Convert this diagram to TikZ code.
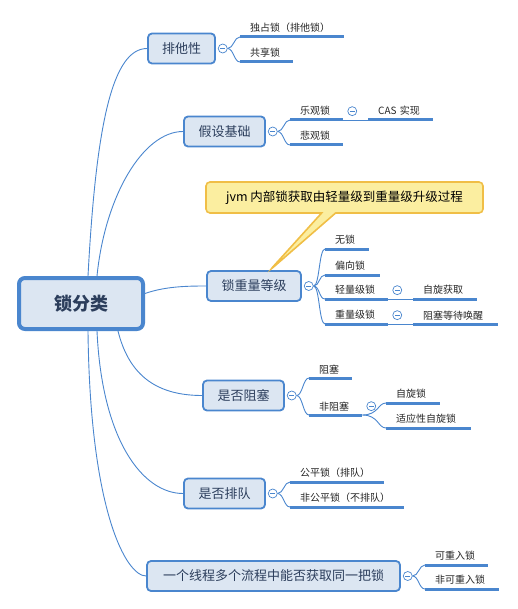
\documentclass[tikz,border=0pt]{standalone}
\usepackage{fontspec}
\setmainfont{Noto Sans CJK SC}
\usetikzlibrary{shapes,shapes.callouts,positioning,backgrounds}
\definecolor{mapblue}{RGB}{74,134,206}
\definecolor{boxfill}{RGB}{220,230,242}
\definecolor{boxtext}{RGB}{44,62,92}
\definecolor{noteyellow}{RGB}{251,238,160}
\definecolor{noteorange}{RGB}{240,190,70}

\begin{document}
\begin{tikzpicture}[
    x=1pt, y=-1pt,
    root/.style={rectangle, rounded corners=6pt, draw=mapblue, line width=4pt, fill=boxfill, minimum width=124pt, minimum height=51pt, text=boxtext, font=\fontsize{18}{20}\selectfont\bfseries},
    topic/.style={rectangle, rounded corners=4pt, draw=mapblue, line width=1.8pt, fill=boxfill, minimum height=30pt, text=boxtext, font=\fontsize{13}{15}\selectfont},
    fold/.style={circle, draw=mapblue, line width=0.7pt, fill=white, minimum size=9pt, inner sep=0pt, path picture={\draw[mapblue, line width=0.7pt] ([xshift=-2.5pt]path picture bounding box.center) -- ([xshift=2.5pt]path picture bounding box.center);}},
    leaf/.style={anchor=south west, inner xsep=10pt, inner ysep=4pt, text width=#1, align=left, text=black!85, font=\fontsize{10}{12}\selectfont},
    uline/.style={mapblue, line width=3pt},
    link/.style={mapblue, line width=0.9pt},
    note/.style={rectangle callout, rounded corners=4pt, draw=noteorange, line width=1.6pt, fill=noteyellow, minimum width=277pt, minimum height=31pt, callout pointer width=14pt, font=\fontsize{12.5}{15}\selectfont}
]
\useasboundingbox (0,0) rectangle (517,609);

% Main topics
\node[root] (root) at (81,303.5) {锁分类};
\node[topic, minimum width=67pt] (excl) at (181.5,48.5) {排他性};
\node[topic, minimum width=81pt] (assume) at (224.5,131.5) {假设基础};
\node[topic, minimum width=94pt] (weight) at (254,286) {锁重量等级};
\node[topic, minimum width=81pt] (block) at (243.5,395.5) {是否阻塞};
\node[topic, minimum width=81pt] (queue) at (224.5,493.5) {是否排队};
\node[topic, minimum width=253pt] (reent) at (273.5,576) {一个线程多个流程中能否获取同一把锁};

% Fold markers
\node[fold, right=2pt of excl] (exclf) {};
\node[fold, right=2pt of assume] (assumef) {};
\node[fold, right=2pt of weight] (weightf) {};
\node[fold, right=2pt of block] (blockf) {};
\node[fold, right=2pt of queue] (queuef) {};
\node[fold, right=2pt of reent] (reentf) {};

% Leaves
\node[leaf=84pt] (excla) at (240,37) {独占锁（排他锁）};
\node[leaf=33pt] (exclb) at (240,62) {共享锁};
\node[leaf=33pt] (opt) at (290,120) {乐观锁};
\node[leaf=45pt] (cas) at (368,120) {CAS 实现};
\node[leaf=33pt] (pess) at (290,145) {悲观锁};
\node[leaf=24pt] (nolock) at (325,249) {无锁};
\node[leaf=35pt] (bias) at (325,275) {偏向锁};
\node[leaf=43pt] (light) at (325,299) {轻量级锁};
\node[leaf=44pt] (spinget) at (413,299) {自旋获取};
\node[leaf=43pt] (heavy) at (325,324) {重量级锁};
\node[leaf=65pt] (wake) at (413,324) {阻塞等待唤醒};
\node[leaf=23pt] (blk) at (309,378) {阻塞};
\node[leaf=33pt] (nonblk) at (309,415) {非阻塞};
\node[leaf=34pt] (spin) at (386,403) {自旋锁};
\node[leaf=65pt] (adapt) at (386,428) {适应性自旋锁};
\node[leaf=74pt] (fair) at (290,482) {公平锁（排队）};
\node[leaf=94pt] (unfair) at (290,507) {非公平锁（不排队）};
\node[leaf=43pt] (canre) at (425,565) {可重入锁};
\node[leaf=54pt] (nore) at (425,589) {非可重入锁};

% Sub fold markers
\node[fold, right=4pt of opt] (optf) {};
\node[fold, right=4pt of light] (lightf) {};
\node[fold, right=4pt of heavy] (heavyf) {};
\node[fold, right=4pt of nonblk] (nonblkf) {};

% Underlines
\foreach \n in {excla,exclb,opt,cas,pess,nolock,bias,light,spinget,heavy,wake,blk,nonblk,spin,adapt,fair,unfair,canre,nore}
  \draw[uline] (\n.south west) -- (\n.south east);

% Callout
\node[note, callout absolute pointer={([xshift=16pt]weight.north)}] (tip) at (344.5,197.5) {jvm 内部锁获取由轻量级到重量级升级过程};

% Connections
\begin{scope}[on background layer]
\draw[link] ([xshift=7pt]root.north) .. controls +(8,-150) and +(-35,0) .. (excl.west);
\draw[link] ([xshift=16pt]root.north) .. controls +(8,-80) and +(-40,0) .. (assume.west);
\draw[link] ([yshift=10pt]root.east) .. controls +(20,-7) and +(-20,0) .. (weight.west);
\draw[link] ([xshift=37pt]root.south) .. controls +(10,40) and +(-50,0) .. (block.west);
\draw[link] ([xshift=16pt]root.south) .. controls +(5,110) and +(-40,0) .. (queue.west);
\draw[link] ([xshift=7pt]root.south) .. controls +(2,180) and +(-20,0) .. (reent.west);

\foreach \f/\l in {exclf/excla,exclf/exclb,assumef/opt,assumef/pess,weightf/nolock,weightf/bias,weightf/light,weightf/heavy,blockf/blk,blockf/nonblk,queuef/fair,queuef/unfair,reentf/canre,reentf/nore}
  \draw[link] (\f.east) .. controls +(6,0) and +(-6,0) .. (\l.south west);

\draw[link] (opt.south east) -- (cas.south west);
\draw[link] (light.south east) -- (spinget.south west);
\draw[link] (heavy.south east) -- (wake.south west);
\draw[link] (nonblk.south east) .. controls +(16,0) and +(-8,0) .. (spin.south west);
\draw[link] (nonblk.south east) .. controls +(16,0) and +(-8,0) .. (adapt.south west);
\end{scope}

\end{tikzpicture}
\end{document}
